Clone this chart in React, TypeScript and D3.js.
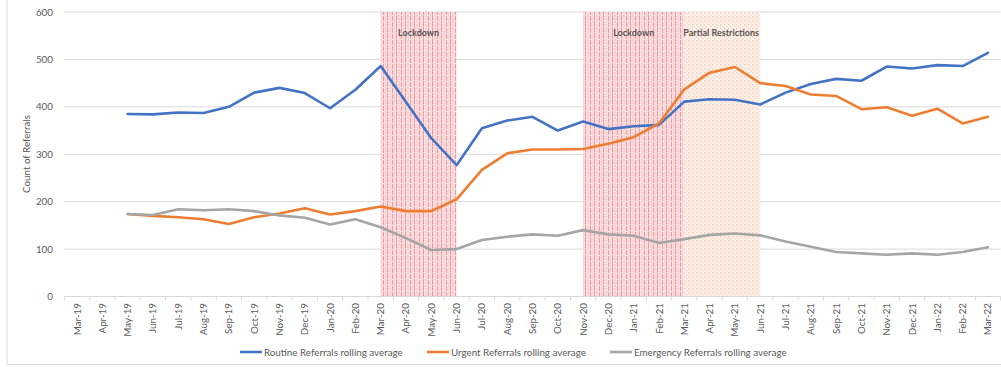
import React from "react";
import * as d3 from "d3";

const months = [
  "Mar-19", "Apr-19", "May-19", "Jun-19", "Jul-19", "Aug-19", "Sep-19", "Oct-19", "Nov-19", "Dec-19",
  "Jan-20", "Feb-20", "Mar-20", "Apr-20", "May-20", "Jun-20", "Jul-20", "Aug-20", "Sep-20", "Oct-20",
  "Nov-20", "Dec-20", "Jan-21", "Feb-21", "Mar-21", "Apr-21", "May-21", "Jun-21", "Jul-21", "Aug-21",
  "Sep-21", "Oct-21", "Nov-21", "Dec-21", "Jan-22", "Feb-22", "Mar-22",
];

const routine: (number | null)[] = [
  null, null, 385, 384, 388, 387, 400, 430, 440, 429,
  397, 436, 486, 410, 334, 277, 355, 371, 379, 350,
  369, 353, 359, 362, 411, 416, 415, 405, 430, 448,
  459, 455, 485, 481, 488, 486, 514,
];

const urgent: (number | null)[] = [
  null, null, 174, 170, 167, 163, 153, 167, 175, 186,
  173, 180, 190, 180, 180, 205, 267, 302, 310, 310,
  311, 322, 336, 365, 437, 472, 484, 450, 444, 426,
  423, 395, 399, 381, 396, 365, 379,
];

const emergency: (number | null)[] = [
  null, null, 174, 172, 184, 182, 184, 180, 171, 166,
  152, 163, 146, 123, 98, 100, 119, 126, 131, 128,
  140, 131, 128, 113, 121, 130, 133, 129, 116, 105,
  94, 91, 88, 91, 88, 94, 104,
];

const yTicks = [0, 100, 200, 300, 400, 500, 600];

const periods = [
  { label: "Lockdown", from: "Mar-20", to: "Jun-20", kind: "lockdown" },
  { label: "Lockdown", from: "Nov-20", to: "Mar-21", kind: "lockdown" },
  { label: "Partial Restrictions", from: "Mar-21", to: "Jun-21", kind: "partial" },
];

const seriesList = [
  { name: "Routine Referrals rolling average", values: routine, color: "#4472C4" },
  { name: "Urgent Referrals rolling average", values: urgent, color: "#ED7D31" },
  { name: "Emergency Referrals rolling average", values: emergency, color: "#A5A5A5" },
];

const W = 1001;
const H = 367;
const plotLeft = 64.4;
const plotRight = 1000.6;
const plotTop = 12;
const plotBottom = 296.5;

const font = "Lato, 'Liberation Sans', sans-serif";
const textColor = "#595959";
const fs = 9.8;

export default function App() {
  const x = d3.scalePoint<string>().domain(months).range([plotLeft, plotRight]).padding(0.5);
  const step = x.step();
  const y = d3.scaleLinear().domain([0, 600]).range([plotBottom, plotTop]);

  const line = d3
    .line<number | null>()
    .defined((d) => d !== null)
    .x((_, i) => x(months[i]) as number)
    .y((d) => y(d as number));

  const legendPos = [240, 427, 610];

  return (
    <svg
      width={W}
      height={H}
      style={{ position: "absolute", left: 0, top: 0, background: "#fff" }}
      fontFamily={font}
    >
      <defs>
        <pattern id="lockdownPat" width="9" height="6" patternUnits="userSpaceOnUse">
          <rect width="9" height="6" fill="#fde4e4" />
          <line x1="0.5" y1="0" x2="0.5" y2="6" stroke="#f08d93" strokeWidth="1" strokeDasharray="2.5 0.8" />
          <line x1="3" y1="0" x2="3" y2="6" stroke="#f7b9bc" strokeWidth="1" strokeDasharray="2 1" />
          <line x1="5.5" y1="0" x2="5.5" y2="6" stroke="#f29ba0" strokeWidth="1.2" strokeDasharray="3 1" />
          <line x1="7.6" y1="0" x2="7.6" y2="6" stroke="#f9cdd0" strokeWidth="0.8" />
        </pattern>
        <pattern id="partialPat" width="4" height="4" patternUnits="userSpaceOnUse">
          <rect width="4" height="4" fill="#fdf2ec" />
          <rect x="0" y="0" width="1.4" height="1.4" fill="#f6c8af" />
          <rect x="2" y="2" width="1.4" height="1.4" fill="#f8d4c0" />
        </pattern>
      </defs>

      {/* chart frame */}
      <line x1={7} y1={0} x2={7} y2={364.5} stroke="#d9d9d9" />
      <line x1={7} y1={364.5} x2={W} y2={364.5} stroke="#d9d9d9" />

      {/* gridlines */}
      {yTicks.slice(1).map((t) => (
        <line key={t} x1={plotLeft} x2={plotRight} y1={y(t)} y2={y(t)} stroke="#d9d9d9" strokeWidth={1} />
      ))}

      {/* shaded periods */}
      {periods.map((p, i) => {
        const x0 = x(p.from) as number;
        const x1 = x(p.to) as number;
        return (
          <rect
            key={i}
            x={x0}
            y={plotTop}
            width={x1 - x0}
            height={plotBottom - plotTop}
            fill={p.kind === "lockdown" ? "url(#lockdownPat)" : "url(#partialPat)"}
          />
        );
      })}
      {periods.map((p, i) => {
        const x0 = x(p.from) as number;
        const x1 = x(p.to) as number;
        const partial = p.kind === "partial";
        return (
          <text
            key={i}
            x={partial ? x0 - 1 : (x0 + x1) / 2}
            y={36}
            textAnchor={partial ? "start" : "middle"}
            fontSize={9}
            fontWeight="bold"
            fill="#555"
          >
            {p.label}
          </text>
        );
      })}

      {/* x axis */}
      <line x1={plotLeft} x2={plotRight} y1={plotBottom} y2={plotBottom} stroke="#d9d9d9" />
      {d3.range(months.length + 1).map((i) => {
        const tx = plotLeft + i * step;
        return <line key={i} x1={tx} x2={tx} y1={plotBottom} y2={plotBottom + 4} stroke="#d9d9d9" />;
      })}
      {months.map((m) => (
        <text
          key={m}
          transform={`translate(${(x(m) as number) + 3.5},303) rotate(-90)`}
          textAnchor="end"
          fontSize={fs}
          fill={textColor}
        >
          {m}
        </text>
      ))}

      {/* y axis labels */}
      {yTicks.map((t) => (
        <text key={t} x={53} y={y(t) + 3.5} textAnchor="end" fontSize={fs} fill={textColor}>
          {t}
        </text>
      ))}
      <text
        transform={`translate(30,154) rotate(-90)`}
        textAnchor="middle"
        fontSize={fs}
        fill={textColor}
      >
        Count of Referrals
      </text>

      {/* series */}
      {seriesList.map((s) => (
        <path
          key={s.name}
          d={line(s.values) ?? ""}
          fill="none"
          stroke={s.color}
          strokeWidth={2.6}
          strokeLinejoin="round"
          strokeLinecap="round"
        />
      ))}

      {/* legend */}
      {seriesList.map((s, i) => (
        <g key={s.name} transform={`translate(${legendPos[i]},352)`}>
          <line x1={0} x2={22} y1={0} y2={0} stroke={s.color} strokeWidth={2.6} />
          <text x={24} y={3.5} fontSize={fs} fill={textColor}>
            {s.name}
          </text>
        </g>
      ))}
    </svg>
  );
}
